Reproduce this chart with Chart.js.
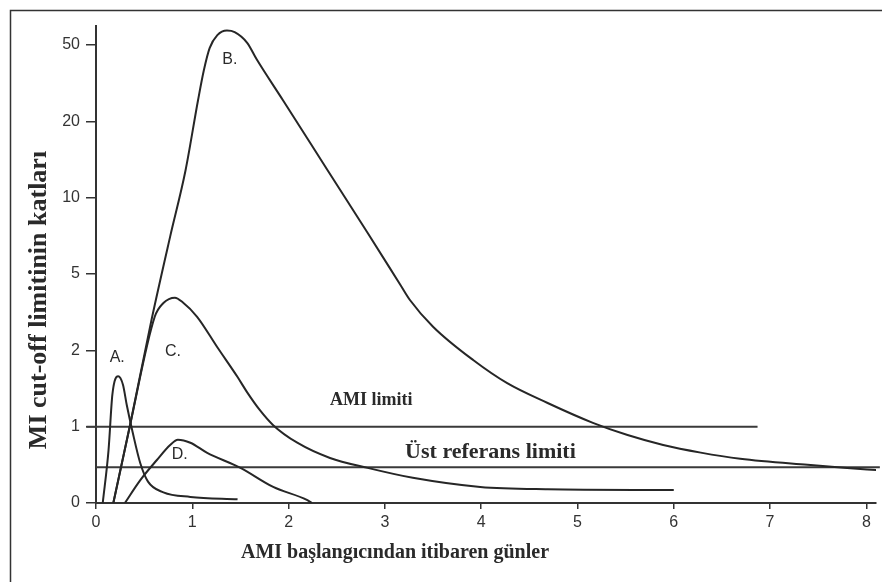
<!DOCTYPE html>
<html>
<head>
<meta charset="utf-8">
<script src="https://cdn.jsdelivr.net/npm/chart.js@4.4.0/dist/chart.umd.min.js"></script>
<style>
  html, body { margin: 0; padding: 0; background: #fff; }
  #wrap { width: 882px; height: 582px; }
</style>
</head>
<body>
<div id="wrap"><canvas id="amiChart" width="882" height="582"></canvas></div>
<script>
// Tick labels
const xTicks = [0, 1, 2, 3, 4, 5, 6, 7, 8];
// y axis is evenly spaced: position i carries label yTickLabels[i]
const yTickLabels = ['0', '1', '2', '5', '10', '20', '50'];

// Curves: days after AMI onset, level as position on the y axis
const daysA  = [0.07, 0.13, 0.17, 0.23, 0.28, 0.32, 0.38, 0.46, 0.54, 0.70, 0.98, 1.47];
const levelA = [0, 0.69, 1.42, 1.66, 1.55, 1.28, 0.93, 0.52, 0.28, 0.14, 0.08, 0.05];

const daysB  = [0.18, 0.35, 0.58, 0.77, 0.93, 1.06, 1.12, 1.18, 1.26, 1.36, 1.44, 1.57, 1.67, 1.94, 2.40, 2.82, 3.16, 3.26, 3.50, 3.92, 4.27, 4.69, 5.16, 5.52, 5.89, 6.28, 6.69, 7.39, 7.80, 8.11];
const levelB = [0, 1.0, 2.42, 3.49, 4.36, 5.28, 5.67, 5.96, 6.13, 6.19, 6.17, 6.03, 5.81, 5.28, 4.37, 3.54, 2.86, 2.66, 2.31, 1.87, 1.57, 1.31, 1.05, 0.89, 0.76, 0.66, 0.58, 0.50, 0.46, 0.43];

const daysC  = [0.18, 0.35, 0.61, 0.70, 0.82, 0.90, 1.05, 1.26, 1.47, 1.57, 1.70, 1.84, 2.09, 2.43, 2.82, 3.29, 3.99, 4.69, 6.00];
const levelC = [0, 1.0, 2.44, 2.62, 2.69, 2.63, 2.44, 2.04, 1.65, 1.45, 1.22, 1.02, 0.79, 0.59, 0.46, 0.33, 0.21, 0.18, 0.17];

const daysD  = [0.30, 0.46, 0.63, 0.77, 0.85, 0.98, 1.15, 1.50, 1.84, 2.19, 2.24];
const levelD = [0, 0.30, 0.56, 0.76, 0.83, 0.79, 0.66, 0.46, 0.21, 0.04, 0];

// Limit lines
const amiLimitDays = [-0.1, 6.87];
const amiLimitLevel = 1.0;
const urlDays = [0, 8.14];
const urlLevel = 0.47;

// Curve name labels
const curveNames = ['A.', 'B.', 'C.', 'D.'];
const curveNameDays = [0.22, 1.39, 0.80, 0.87];
const curveNameLevels = [1.90, 5.81, 1.98, 0.63];

function toPoints(days, levels) {
  return days.map((d, i) => ({ x: d, y: levels[i] }));
}

function curve(days, levels) {
  return {
    data: toPoints(days, levels),
    borderColor: '#262626',
    borderWidth: 2,
    pointRadius: 0,
    fill: false,
    cubicInterpolationMode: 'monotone'
  };
}

function limitLine(days, level) {
  return {
    data: days.map(d => ({ x: d, y: level })),
    borderColor: '#3a3a3a',
    borderWidth: 2,
    pointRadius: 0,
    fill: false,
    tension: 0,
    clip: false
  };
}

const annotate = {
  id: 'annotate',
  beforeDraw(chart) {
    const ctx = chart.ctx;
    ctx.save();
    ctx.fillStyle = '#fff';
    ctx.fillRect(0, 0, chart.width, chart.height);
    ctx.strokeStyle = '#333';
    ctx.lineWidth = 1.5;
    ctx.strokeRect(10.5, 10.5, 900, 900);
    ctx.restore();
  },
  afterDraw(chart) {
    const { ctx, scales: { x, y } } = chart;
    ctx.save();
    ctx.fillStyle = '#2a2a2a';
    ctx.textBaseline = 'middle';
    ctx.textAlign = 'center';
    ctx.font = '16px "Liberation Sans"';
    curveNames.forEach((name, i) => {
      ctx.fillText(name, x.getPixelForValue(curveNameDays[i]), y.getPixelForValue(curveNameLevels[i]));
    });

    ctx.textAlign = 'left';
    ctx.font = 'bold 18px "Liberation Serif"';
    ctx.fillText('AMI limiti', x.getPixelForValue(2.43), y.getPixelForValue(1.35));
    ctx.font = 'bold 22px "Liberation Serif"';
    ctx.fillText('Üst referans limiti', x.getPixelForValue(3.21), y.getPixelForValue(0.67));

    // axis titles
    ctx.textAlign = 'center';
    ctx.font = 'bold 20px "Liberation Serif"';
    ctx.fillText('AMI başlangıcından itibaren günler', 395, 553);

    ctx.translate(39, 300);
    ctx.rotate(-Math.PI / 2);
    ctx.font = 'bold 26px "Liberation Serif"';
    ctx.fillText('MI cut-off limitinin katları', 0, 0);
    ctx.restore();
  }
};

const ctx = document.getElementById('amiChart').getContext('2d');
new Chart(ctx, {
  type: 'line',
  data: {
    datasets: [
      curve(daysA, levelA),
      curve(daysB, levelB),
      curve(daysC, levelC),
      curve(daysD, levelD),
      limitLine(amiLimitDays, amiLimitLevel),
      limitLine(urlDays, urlLevel)
    ]
  },
  options: {
    responsive: false,
    animation: false,
    devicePixelRatio: 1,
    layout: { padding: { top: 26, right: 6, bottom: 0, left: 0 } },
    plugins: {
      legend: { display: false },
      tooltip: { enabled: false }
    },
    scales: {
      x: {
        type: 'linear',
        min: 0,
        max: 8.1,
        afterBuildTicks: (scale) => { scale.ticks = xTicks.map(v => ({ value: v })); },
        afterFit: (scale) => { scale.height = 79; },
        grid: { drawOnChartArea: false, drawTicks: true, tickLength: 6, color: '#333', lineWidth: 1.5 },
        border: { display: true, color: '#333', width: 2 },
        ticks: { color: '#333', padding: 4, font: { family: 'Liberation Sans', size: 16 } }
      },
      y: {
        type: 'linear',
        min: 0,
        max: 6.25,
        afterBuildTicks: (scale) => { scale.ticks = yTickLabels.map((_, i) => ({ value: i })); },
        afterFit: (scale) => { scale.width = 96; },
        grid: { drawOnChartArea: false, drawTicks: true, tickLength: 10, color: '#333', lineWidth: 1.5 },
        border: { display: true, color: '#333', width: 2 },
        ticks: {
          color: '#333',
          padding: 6,
          font: { family: 'Liberation Sans', size: 16 },
          callback: (value) => yTickLabels[value]
        }
      }
    }
  },
  plugins: [annotate]
});
</script>
</body>
</html>
